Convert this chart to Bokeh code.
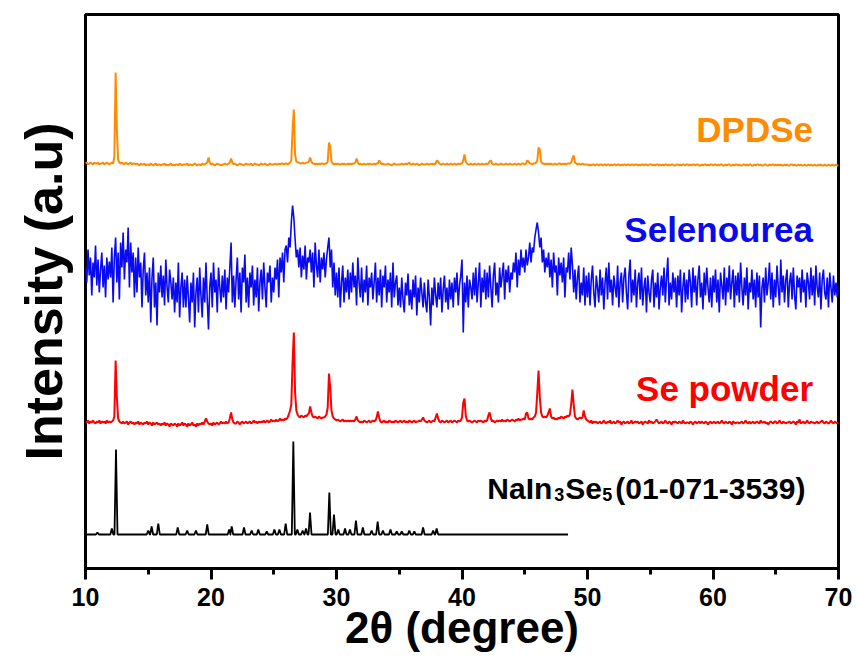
import numpy as np
from bokeh.plotting import figure
from bokeh.models import Label, SingleIntervalTicker, Range1d, Title
from bokeh.embed import file_html
from bokeh.resources import INLINE

# 2-theta sampling grid (degrees), 0.1 deg step from 10 to 70
two_theta = np.linspace(10, 70, 601)

# ---- DPDSe (relative intensity above its baseline), one row per degree ----
dpdse_rows = [
    [1, 2, 0, 1, 2, 1, 0, 2, 1, 1],        # 10
    [2, 0, 1, 1, 2, 0, 1, 2, 1, 0],        # 11
    [1, 2, 1, 8, 92, 35, 5, 2, 1, 2],      # 12
    [1, 0, 2, 1, 0, 1, 2, 0, 1, 1],        # 13
    [0, 1, 0, -1, 1, 0, 0, 1, -1, 0],      # 14
    [0, -1, 1, 0, -1, 0, 1, -1, 0, 0],     # 15
    [-1, 0, 0, 1, -1, 0, -1, 0, 1, -1],    # 16
    [0, -1, 0, 0, -1, 1, 0, -1, 0, 0],     # 17
    [0, 1, -1, 0, 0, -1, 0, 1, 0, -1],     # 18
    [0, 0, -1, 1, 0, 0, 1, 2, 7, 2],       # 19
    [0, 1, 0, -1, 0, 1, 0, 0, -1, 0],      # 20
    [0, 1, 0, 0, 1, 2, 6, 2, 0, 1],        # 21
    [0, -1, 0, 1, 0, 0, -1, 0, 1, 0],      # 22
    [0, 0, 1, -1, 0, 1, 0, 0, -1, 0],      # 23
    [1, 0, 0, 1, 0, -1, 0, 1, 0, 0],       # 24
    [0, 1, 0, 0, 1, 0, 1, 1, 0, 1],        # 25
    [1, 0, 1, 2, 4, 35, 55, 10, 3, 2],     # 26
    [2, 1, 1, 2, 1, 1, 2, 2, 3, 7],        # 27
    [3, 1, 1, 0, 1, 0, 1, 0, 1, 1],        # 28
    [0, 1, 1, 3, 22, 18, 3, 1, 0, 1],      # 29
    [0, 1, 0, 0, 1, 0, 1, 0, 0, 1],        # 30
    [0, 1, 0, 1, 1, 2, 6, 2, 0, 1],        # 31
    [0, 0, 1, 0, 0, 1, 0, 1, 0, 0],        # 32
    [1, 0, 1, 1, 4, 2, 0, 1, 0, 0],        # 33
    [0, 1, 0, 0, -1, 0, 1, 0, 0, 0],       # 34
    [0, 0, 1, 0, 0, 1, 0, 1, 2, 0],        # 35
    [0, 1, 0, 0, 1, 0, -1, 0, 1, 0],       # 36
    [0, 0, 1, 0, 0, 1, 0, 1, 0, 1],        # 37
    [4, 3, 1, 0, 0, 1, 0, 0, 1, 0],        # 38
    [0, 1, 0, 0, 1, 0, 0, 1, 0, 1],        # 39
    [1, 4, 10, 3, 1, 0, 0, 1, 0, 0],       # 40
    [1, 0, 0, 1, 0, 0, 1, 0, 0, 1],        # 41
    [0, 1, 3, 4, 1, 0, 0, 1, 0, 0],        # 42
    [0, 1, 0, 0, 0, 1, 0, 0, 1, 0],        # 43
    [0, 0, 1, 0, 0, 1, 0, 0, 1, 1],        # 44
    [0, 1, 4, 3, 1, 1, 0, 1, 1, 2],        # 45
    [4, 17, 15, 3, 1, 1, 0, 1, 0, 1],      # 46
    [0, 1, 0, 0, 1, 0, 0, 1, 1, 0],        # 47
    [1, 0, 1, 0, 1, 1, 1, 2, 6, 9],        # 48
    [2, 1, 0, 1, 0, 0, 1, 0, 0, 0],        # 49
    [0, -1, 0, -1, 0, 0, -1, 0, 0, -1],    # 50
    [0, 0, -1, 0, 0, -1, 0, 0, -1, 0],     # 51
    [-1, 0, 0, -1, 0, 0, -1, 0, -1, 0],    # 52
    [0, -1, 0, 0, -1, 0, 0, -1, 0, 0],     # 53
    [-1, 0, -1, 0, 0, -1, 0, 0, -1, 0],    # 54
    [0, 0, -1, 0, -1, 0, 0, -1, 0, -1],    # 55
    [0, -1, 0, 0, -1, 0, -1, 0, 0, -1],    # 56
    [-1, 0, 0, -1, 0, -1, 0, 0, -1, 0],    # 57
    [0, -1, 0, -1, 0, 0, -1, 0, 0, -1],    # 58
    [-1, 0, -1, 0, 0, -1, 0, -1, 0, 0],    # 59
    [-1, 0, 0, -1, 0, -1, 0, 0, -1, -1],   # 60
    [0, -1, 0, 0, -1, -1, 0, -1, 0, 0],    # 61
    [-1, 0, -1, -1, 0, 0, -1, 0, -1, 0],   # 62
    [0, -1, -1, 0, -1, 0, 0, -1, 0, -1],   # 63
    [-1, 0, 0, -1, -1, 0, -1, 0, 0, -1],   # 64
    [0, -1, 0, -1, 0, -1, -1, 0, -1, 0],   # 65
    [-1, -1, 0, 0, -1, 0, -1, -1, 0, -1],  # 66
    [0, -1, -1, 0, -1, -1, 0, -1, 0, -1],  # 67
    [-1, 0, -1, -1, 0, -1, 0, -1, -1, 0],  # 68
    [-1, -1, 0, -1, -1, 0, -1, -1, 0, -1], # 69
]
dpdse_last = [-1]  # 70.0

# ---- Selenourea ----
selenourea_rows = [
    [20, 5, 38, 12, 30, -8, 25, 10, 42, 2],         # 10
    [28, -5, 18, 35, 0, 22, -10, 30, 8, 26],        # 11
    [10, 40, -15, 30, 50, 5, 35, -12, 45, 20],      # 12
    [55, 8, 38, 25, 60, 0, 45, 15, 35, -10],        # 13
    [30, -5, 40, 10, 25, -20, 18, 35, -8, 15],      # 14
    [-15, 20, -35, 10, 30, -20, 5, -38, 15, -5],    # 15
    [22, -10, 12, -18, 28, 0, -15, 18, 5, -12],     # 16
    [10, -25, 5, -15, 25, -30, 0, 15, -20, 8],      # 17
    [-20, 12, -10, -35, 5, -15, 15, -40, -5, 10],   # 18
    [-25, 20, -8, -30, 10, -15, 25, -12, -42, 0],   # 19
    [15, -20, 25, -5, 8, -25, 20, 0, -15, 12],      # 20
    [-10, 18, -22, 10, -5, 20, 45, -15, 12, -20],   # 21
    [8, 30, -12, 15, -25, 20, 5, 33, -15, 10],      # 22
    [-20, 15, 0, 22, -18, 8, -10, 20, -24, 5],      # 23
    [18, -12, 25, 0, -20, 15, 5, 22, -15, 10],      # 24
    [-5, 20, 8, 28, -10, 30, 15, 35, 5, 38],        # 25
    [42, 25, 50, 40, 65, 82, 70, 48, 30, 38],       # 26
    [20, 40, 10, 32, 18, 42, 8, 30, 25, 38],        # 27
    [15, 35, 0, 45, 22, 10, 38, 5, 30, 18],         # 28
    [35, 10, 28, 40, 50, 20, 38, 0, 25, -8],        # 29
    [15, -10, 20, -20, 5, 22, -15, 10, -5, 18],     # 30
    [-12, 15, -5, 25, 0, 12, -18, 30, 5, -10],      # 31
    [20, -15, 8, -5, 22, -18, 10, 0, 15, -12],      # 32
    [5, 25, -15, 10, -8, 18, -20, 12, 0, 22],       # 33
    [-15, 8, -5, 15, -20, 25, -10, 5, 12, -18],     # 34
    [0, -20, 10, -12, -25, 5, -8, 14, -18, -2],     # 35
    [-22, 8, -10, 12, -28, 0, -15, 10, -5, -20],    # 36
    [5, -15, -25, 8, -10, -38, 0, -18, 10, -8],     # 37
    [-20, 5, -12, 10, -25, -2, 12, -15, 0, -22],    # 38
    [8, -12, 5, -20, 10, -5, 15, -18, 2, 12],       # 39
    [28, -45, 5, -15, 12, -20, 8, 0, -12, 15],      # 40
    [-8, 20, -15, 5, 25, -20, 10, -5, 18, -12],     # 41
    [15, -10, 22, 0, -20, 12, 25, -8, 5, -15],      # 42
    [20, 0, 12, 25, -12, 18, 5, 22, -5, 15],        # 43
    [8, 25, 15, 35, 0, 28, 12, 38, 20, 30],         # 44
    [15, 38, 22, 30, 45, 25, 40, 35, 50, 58],       # 45
    [65, 55, 40, 50, 25, 38, 15, 30, 20, 35],       # 46
    [10, 28, 0, 35, 15, 22, -8, 30, 12, 25],        # 47
    [5, 30, -10, 20, 15, 35, 8, 40, 22, -5],        # 48
    [18, -12, 10, 22, -15, 5, -8, 20, -18, 12],     # 49
    [-10, 15, -18, 8, 22, -5, -20, 12, 0, -15],     # 50
    [18, -8, 10, -22, 5, 20, -12, 25, -5, 8],       # 51
    [-18, 12, 0, -10, 22, -20, 5, 15, -15, 10],     # 52
    [20, -5, -22, 12, 28, -15, 8, -8, 18, -20],     # 53
    [5, 15, -12, 20, -18, 0, 10, -25, 12, -5],      # 54
    [-15, 8, 18, -20, 5, -10, 15, -22, 0, 12],      # 55
    [-8, 20, -15, 10, 30, -18, 5, -12, 15, -5],     # 56
    [10, -20, 12, -8, 18, -25, 0, 15, -15, 8],      # 57
    [-12, 18, 5, -20, 20, -5, 12, -18, 8, 22],      # 58
    [-10, 5, -22, 15, -8, 20, 0, -15, 10, -20],     # 59
    [12, -5, 18, -15, 8, -25, 15, 2, -12, 20],      # 60
    [-18, 10, -5, 22, -12, 5, 18, -20, 12, -8],     # 61
    [15, -15, 25, 0, -18, 10, -8, 20, -22, 5],      # 62
    [-5, 18, -12, 8, -20, 15, -10, 12, -40, 0],     # 63
    [10, -15, 20, -8, 5, 25, -12, 15, -20, 8],      # 64
    [-10, 22, 0, -18, 28, -5, 12, -15, 8, 18],      # 65
    [-20, 5, 15, -12, 20, -8, -22, 12, 0, 10],      # 66
    [-15, 18, -5, 8, -20, 15, 5, -12, 20, -8],      # 67
    [12, -18, 22, 0, -10, 15, -22, 8, 18, -5],      # 68
    [-12, 10, -20, 15, 0, -15, 12, -8, 5, -10],     # 69
]
selenourea_last = [0]

# ---- Se powder ----
se_powder_rows = [
    [1, 0, 2, -1, 1, 0, 2, 0, -1, 1],         # 10
    [0, 2, -1, 1, 0, 1, -1, 2, 0, 1],         # 11
    [0, 1, 2, 6, 62, 25, 4, 1, 0, -1],        # 12
    [1, -1, 0, 1, -2, 0, 1, -1, 0, -2],       # 13
    [0, -1, 1, -2, 0, -1, -2, 0, -1, 1],      # 14
    [-2, 0, -1, -3, 0, -2, -1, 0, -2, -1],    # 15
    [-3, -1, -2, 0, -3, -1, -2, -4, -1, -2],  # 16
    [-3, -1, -2, -4, -1, -3, -2, 0, -3, -1],  # 17
    [-2, -4, -1, -3, -2, 0, -3, -2, -4, -1],  # 18
    [-3, -1, -2, 0, -2, 1, 4, 1, -1, -2],     # 19
    [-1, -3, 0, -2, -1, 0, -2, -1, 1, -1],    # 20
    [0, -1, 1, -1, 0, 4, 10, 3, 0, -1],       # 21
    [-1, 1, 0, -2, 0, 1, -1, 0, 1, -1],       # 22
    [0, 1, -1, 0, 2, 0, 1, -1, 1, 0],         # 23
    [1, 0, 2, 0, 1, 2, 0, 1, 3, 1],           # 24
    [2, 1, 3, 1, 2, 4, 2, 3, 2, 4],           # 25
    [3, 5, 8, 12, 18, 60, 90, 30, 12, 8],     # 26
    [6, 5, 7, 6, 5, 7, 6, 8, 9, 16],          # 27
    [10, 6, 5, 6, 5, 4, 6, 5, 4, 5],          # 28
    [5, 6, 8, 15, 49, 35, 12, 6, 4, 3],       # 29
    [2, 3, 2, 1, 2, 3, 1, 2, 1, 2],           # 30
    [1, 2, 1, 2, 1, 3, 6, 2, 1, 0],           # 31
    [1, 0, 2, 1, 0, 1, 2, 0, 1, 2],           # 32
    [1, 2, 5, 11, 5, 1, 0, 1, 2, 0],          # 33
    [1, 0, 2, 1, 0, 1, 0, 2, 1, 0],           # 34
    [1, 2, 0, 1, 2, 0, 1, 0, 2, 1],           # 35
    [0, 1, 2, 0, 1, 1, 2, 1, 3, 5],           # 36
    [2, 1, 0, 1, 2, 0, 1, 2, 1, 5],           # 37
    [9, 4, 1, 0, 2, 1, 0, 1, 2, 0],           # 38
    [1, 2, 0, 1, 2, 1, 0, 2, 1, 2],           # 39
    [5, 20, 24, 7, 2, 1, 2, 1, 0, 1],         # 40
    [2, 1, 0, 2, 1, 2, 1, 0, 2, 1],           # 41
    [2, 7, 10, 4, 1, 2, 0, 1, 2, 1],          # 42
    [2, 1, 3, 1, 2, 1, 3, 2, 1, 2],           # 43
    [3, 2, 1, 3, 2, 4, 2, 3, 3, 4],           # 44
    [3, 9, 10, 4, 3, 4, 3, 5, 6, 10],         # 45
    [30, 52, 25, 10, 6, 5, 6, 5, 7, 10],      # 46
    [14, 6, 4, 5, 3, 4, 3, 5, 4, 6],          # 47
    [5, 4, 6, 5, 7, 6, 8, 18, 33, 18],        # 48
    [6, 4, 3, 4, 5, 4, 5, 12, 6, 3],          # 49
    [2, 1, 0, 2, -1, 1, 0, 1, -1, 0],         # 50
    [1, -1, 0, 2, 0, -1, 1, 0, 2, -1],        # 51
    [0, 1, -1, 0, 2, 0, 1, -2, 0, 1],         # 52
    [-1, 0, 1, -1, 0, 2, -1, 0, 1, 0],        # 53
    [1, -1, 0, 1, -2, 0, 1, 0, -1, 2],        # 54
    [0, 1, -1, 0, 1, 3, 1, -1, 0, 1],         # 55
    [-1, 0, 2, 0, -1, 1, 0, -2, 1, 0],        # 56
    [1, 0, -1, 1, 0, -1, 2, 0, -1, 0],        # 57
    [0, -1, 1, 0, -2, 0, 1, -1, 0, 1],        # 58
    [-1, 1, 0, -1, 1, 0, -2, 0, 1, -1],       # 59
    [0, 1, -1, 0, 1, -1, 0, 2, 0, -1],        # 60
    [1, 0, -1, 1, 0, -2, 1, 0, -1, 0],        # 61
    [0, -1, 0, 1, -1, 0, 2, 0, -1, 1],        # 62
    [-1, 0, 1, -1, 0, 1, 0, -1, 2, 0],        # 63
    [0, 1, -1, 0, -2, 0, 1, 0, -1, 1],        # 64
    [1, -1, 0, 2, 0, -1, 1, 0, -1, 0],        # 65
    [0, 1, -1, 0, 1, 0, -2, 1, 0, 3],         # 66
    [-1, 0, 1, -1, 0, 2, 0, -1, 1, 0],        # 67
    [0, -1, 0, 1, -1, 0, 1, 2, 0, -1],        # 68
    [1, 0, -1, 0, 2, 0, -1, 1, 0, -1],        # 69
]
se_powder_last = [0]

# ---- NaIn3Se5 reference pattern (01-071-3539): peak positions and heights ----
nain_pos = [10.95, 12.1, 12.43, 15.0, 15.27, 15.8, 17.35, 18.1, 18.8, 19.7,
            21.45, 21.65, 22.63, 23.24, 23.77, 24.44, 25.05, 25.45, 25.95, 26.56,
            26.88, 27.3, 27.57, 27.89, 29.43, 29.8, 30.14, 30.68, 31.07, 31.55,
            32.1, 32.8, 33.28, 33.7, 34.3, 34.8, 35.2, 35.8, 36.2, 36.9, 37.7, 37.98]
nain_height = [2, 6, 85, 4, 8, 11, 7, 4, 4, 10,
               5, 8, 7, 4, 5, 3, 5, 5, 11, 93,
               5, 4, 6, 22, 42, 20, 5, 6, 5, 14,
               7, 4, 13, 4, 5, 3, 3, 4, 3, 7, 4, 6]
nain_range = [10.0, 48.45]

# vertical stacking offsets of each pattern
offsets = {"DPDSe": 404, "Selenourea": 281, "Se powder": 146, "NaIn3Se5": 34}

dpdse = np.array(sum(dpdse_rows, []) + dpdse_last, dtype=float)
selenourea = np.array(sum(selenourea_rows, []) + selenourea_last, dtype=float)
se_powder = np.array(sum(se_powder_rows, []) + se_powder_last, dtype=float)
assert len(dpdse) == len(selenourea) == len(se_powder) == len(two_theta)

# stick-like reference pattern
hw = 0.12
nx, ny = [nain_range[0]], [0.0]
for c, h in zip(nain_pos, nain_height):
    nx += [c - hw, c, c + hw]
    ny += [0.0, h, 0.0]
nx.append(nain_range[1]); ny.append(0.0)

ORANGE = "#FF8C00"
BLUE = "#0A0AF0"
RED = "#FF0000"
FONT = "Liberation Sans"

p = figure(width=857, height=666, x_range=Range1d(10, 70), y_range=Range1d(0, 554),
           output_backend="svg", toolbar_location=None,
           min_border_left=85, min_border_right=19, min_border_top=14, min_border_bottom=98)
p.background_fill_color = "white"
p.border_fill_color = "white"
p.grid.visible = False
p.yaxis.visible = False
p.outline_line_color = "black"
p.outline_line_width = 3

ax = p.xaxis[0]
ax.ticker = SingleIntervalTicker(interval=10, num_minor_ticks=2)
ax.axis_line_width = 3
ax.major_tick_line_width = 3
ax.minor_tick_line_width = 3
ax.major_tick_out = 11
ax.major_tick_in = 0
ax.minor_tick_out = 6
ax.minor_tick_in = 0
ax.major_label_text_font = FONT
ax.major_label_text_font_size = "25px"
ax.major_label_text_font_style = "bold"
ax.major_label_text_color = "black"
ax.major_label_standoff = 8
ax.axis_label = "2θ (degree)"
ax.axis_label_text_font = FONT
ax.axis_label_text_font_size = "44px"
ax.axis_label_text_font_style = "bold"
ax.axis_label_text_color = "black"
ax.axis_label_standoff = -6

p.add_layout(Title(text="Intensity (a.u)", align="center", text_font=FONT,
                   text_font_size="52px", text_font_style="bold", text_color="black",
                   standoff=25, offset=-3), "left")

p.line(two_theta, dpdse + offsets["DPDSe"], line_color=ORANGE, line_width=2)
p.line(two_theta, selenourea + offsets["Selenourea"], line_color=BLUE, line_width=1.6)
p.line(two_theta, se_powder + offsets["Se powder"], line_color=RED, line_width=2)
p.line(nx, np.array(ny) + offsets["NaIn3Se5"], line_color="black", line_width=1.8)

def lab(x, y, text, size, color="black", align="left", xo=0):
    p.add_layout(Label(x=x, y=y, text=text, x_offset=xo, text_align=align,
                       text_baseline="alphabetic", text_font=FONT,
                       text_font_size=size, text_font_style="bold",
                       text_color=color))

lab(67.97, 439, "DPDSe", "35px", ORANGE, "right")
lab(67.97, 339, "Selenourea", "35px", BLUE, "right")
lab(67.97, 180, "Se powder", "35px", RED, "right")

# NaIn3Se5 (01-071-3539) with subscripts
lab(42.02, 80, "NaIn", "30px", xo=0)
lab(42.02, 74, "3", "18px", xo=67)
lab(42.02, 80, "Se", "30px", xo=78)
lab(42.02, 74, "5", "18px", xo=115)
lab(42.02, 80, "(01-071-3539)", "30px", xo=128)

open("out.html", "w").write(file_html(p, INLINE))
